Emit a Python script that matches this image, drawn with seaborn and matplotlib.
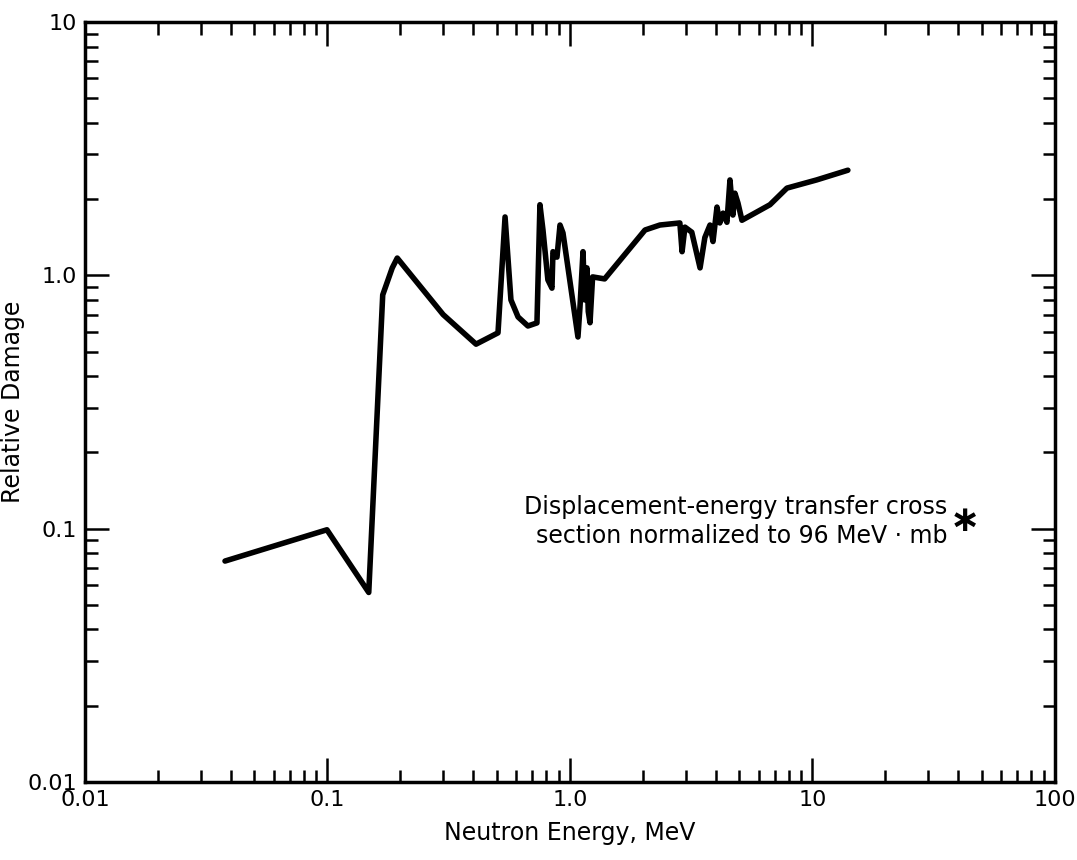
import matplotlib
matplotlib.use("Agg")
import matplotlib.pyplot as plt
import seaborn as sns
import pandas as pd
from matplotlib.ticker import LogLocator, NullFormatter, FixedLocator, FixedFormatter

# ---- data ----
energy_mev = [0.0378, 0.0995, 0.148, 0.169, 0.185, 0.194, 0.30, 0.41, 0.505,
              0.540, 0.571, 0.611, 0.671, 0.731, 0.752, 0.774, 0.811, 0.843,
              0.851, 0.884, 0.910, 0.936, 1.079, 1.10, 1.132, 1.15, 1.175,
              1.19, 1.21, 1.24, 1.39, 2.04, 2.35, 2.84, 2.90, 2.98, 3.18,
              3.44, 3.60, 3.78, 3.89, 4.04, 4.15, 4.28, 4.44, 4.57, 4.70,
              4.79, 4.93, 5.12, 6.68, 7.85, 10.4, 14.0]
relative_damage = [0.0745, 0.099, 0.056, 0.837, 1.07, 1.17, 0.70, 0.535, 0.593,
                   1.70, 0.80, 0.685, 0.631, 0.649, 1.90, 1.51, 0.96, 0.89,
                   1.24, 1.18, 1.58, 1.47, 0.571, 0.75, 1.24, 0.80, 1.07,
                   0.72, 0.65, 0.986, 0.968, 1.51, 1.58, 1.61, 1.24, 1.55, 1.48,
                   1.07, 1.41, 1.58, 1.36, 1.86, 1.61, 1.76, 1.62, 2.38, 1.73,
                   2.11, 1.93, 1.65, 1.90, 2.21, 2.38, 2.60]

x_ticks = [0.01, 0.1, 1.0, 10, 100]
x_tick_labels = ["0.01", "0.1", "1.0", "10", "100"]
y_ticks = [0.01, 0.1, 1.0, 10]
y_tick_labels = ["0.01", "0.1", "1.0", "10"]

x_label = "Neutron Energy, MeV"
y_label = "Relative Damage"
note_text = "Displacement-energy transfer cross\nsection normalized to 96 MeV \u00b7 mb"

# ---- figure ----
sns.set_theme(style="ticks")
plt.rcParams['font.family'] = ['DejaVu Sans']

fig = plt.figure(figsize=(10.77, 8.6), dpi=100)
ax = fig.add_axes([0.0789, 0.0907, 0.9006, 0.8837])

df = pd.DataFrame({"energy": energy_mev, "damage": relative_damage})
sns.lineplot(data=df, x="energy", y="damage", sort=False, estimator=None,
             color="black", linewidth=4, ax=ax)

ax.set_xscale("log")
ax.set_yscale("log")
ax.set_xlim(0.01, 100)
ax.set_ylim(0.01, 10)

ax.xaxis.set_major_locator(FixedLocator(x_ticks))
ax.xaxis.set_major_formatter(FixedFormatter(x_tick_labels))
ax.yaxis.set_major_locator(FixedLocator(y_ticks))
ax.yaxis.set_major_formatter(FixedFormatter(y_tick_labels))
ax.xaxis.set_minor_locator(LogLocator(base=10, subs=range(2, 10)))
ax.yaxis.set_minor_locator(LogLocator(base=10, subs=range(2, 10)))
ax.xaxis.set_minor_formatter(NullFormatter())
ax.yaxis.set_minor_formatter(NullFormatter())

for s in ax.spines.values():
    s.set_linewidth(2.5)
    s.set_color("black")
    s.set_visible(True)

ax.tick_params(which="both", direction="in", top=True, right=True,
               color="black", width=1.8, labelsize=16, labelcolor="black")
ax.tick_params(which="major", length=17, pad=6)
ax.tick_params(which="minor", length=9)

ax.set_xlabel(x_label, fontsize=17, color="black", labelpad=8)
ax.set_ylabel(y_label, fontsize=17, color="black")
ax.yaxis.set_label_coords(-0.062, 0.5)
ax.grid(False)

ax.text(0.889, 0.343, note_text, transform=ax.transAxes, ha="right",
        va="center", multialignment="right", fontsize=17, color="black",
        linespacing=1.25)
ax.text(0.8915, 0.343, "\u2217", transform=ax.transAxes, ha="left",
        va="center", fontsize=26, fontweight="bold", color="black")

fig.savefig("out.png", dpi=100, facecolor="white")
